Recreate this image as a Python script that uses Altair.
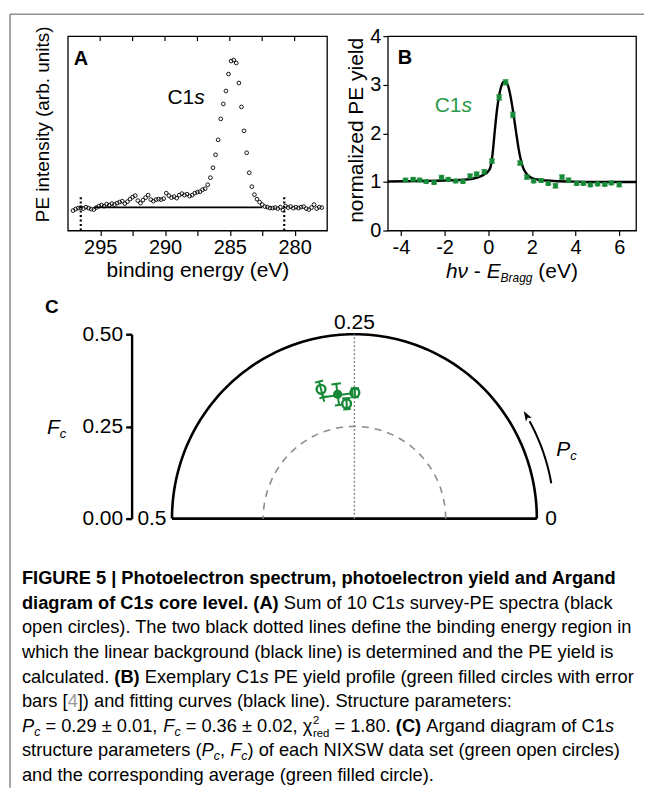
import altair as alt
import numpy as np
import pandas as pd

FONT = "Liberation Sans"
GREEN = "#178a37"
GREEN_TXT = "#2b9a4c"
GRAY = "#8c8c8c"
BORDER = "#909090"

# ---------------- Panel A : PE spectrum ----------------
a_energy = [297.1, 296.9, 296.7, 296.5, 296.3, 296.1, 295.9, 295.7, 295.5, 295.3,
            295.1, 294.9, 294.7, 294.5, 294.3, 294.1, 293.9, 293.7, 293.5, 293.3,
            293.1, 292.9, 292.7, 292.5, 292.3, 292.1, 291.9, 291.7, 291.5, 291.3,
            291.1, 290.9, 290.7, 290.5, 290.3, 290.1, 289.9, 289.7, 289.5, 289.3,
            289.1, 288.9, 288.7, 288.5, 288.3, 288.1, 287.9, 287.7, 287.5, 287.3,
            287.1, 286.9, 286.7, 286.5, 286.3, 286.1, 285.9, 285.7, 285.5, 285.3,
            285.1, 284.9, 284.7, 284.5, 284.3, 284.1, 283.9, 283.7, 283.5, 283.3,
            283.1, 282.9, 282.7, 282.5, 282.3, 282.1, 281.9, 281.7, 281.5, 281.3,
            281.1, 280.9, 280.7, 280.5, 280.3, 280.1, 279.9, 279.7, 279.5, 279.3,
            279.1, 278.9, 278.7, 278.5, 278.3, 278.1, 277.9]
a_intensity = [20, 21.5, 22.5, 23, 22, 23.5, 22.5, 21.5, 21, 23,
               24.5, 25.5, 24.5, 26.5, 25.5, 27, 26, 27.5, 28.5, 29.5,
               27, 29, 31.5, 33.5, 35, 30, 27.5, 30.5, 33, 35.5,
               31, 29.5, 31, 31.5, 31, 32, 37.5, 35, 33, 34,
               32.5, 35.5, 37, 35.5, 36.5, 34.5, 35.5, 37.5, 38.5, 39,
               41, 42, 46, 53, 63, 76, 91, 112, 127, 140,
               157, 170, 171, 168, 148, 124, 100, 78, 58, 44,
               36, 31.5, 28.5, 26, 24, 23.5, 22.5, 22.5, 23, 22,
               23.5, 20.5, 24.5, 23, 24, 22.5, 23.5, 22.5, 23.5, 24,
               22, 21, 23, 26, 22, 23.5, 23]
a_ticks = [295, 292.5, 290, 287.5, 285, 282.5, 280]
a_dotted_E = [296.5, 280.8]
a_dotted_top = [36, 36]
a_bg_from = [295.5]
a_bg_to = [282.5]
a_bg_level = [23.3]

# ---------------- Panel B : PE yield ----------------
b_x = [-3.79, -3.44, -3.14, -2.84, -2.48, -2.14, -1.83, -1.49, -1.16, -0.83,
       -0.53, -0.18, 0.17, 0.50, 0.80, 1.13, 1.46, 1.77, 2.08, 2.42,
       2.75, 3.08, 3.38, 3.68, 4.05, 4.36, 4.68, 5.01, 5.34, 5.64, 6.00]
b_y = [1.04, 1.055, 1.04, 1.01, 0.99, 1.09, 1.055, 1.02, 1.01, 1.12,
       1.16, 1.21, 1.43, 2.74, 3.05, 2.38, 1.39, 1.10, 1.02, 1.03,
       0.97, 0.92, 1.10, 1.035, 0.97, 0.97, 0.94, 0.96, 0.95, 0.98, 0.945]
b_err = [0.03, 0.03, 0.03, 0.03, 0.03, 0.04, 0.03, 0.03, 0.03, 0.04,
         0.04, 0.04, 0.04, 0.05, 0.05, 0.05, 0.04, 0.04, 0.03, 0.03,
         0.03, 0.04, 0.04, 0.04, 0.03, 0.03, 0.03, 0.03, 0.03, 0.03, 0.04]
fit_x = [-4.6, -3.0, -2.0, -1.0, -0.5, -0.2, 0.0, 0.1, 0.2, 0.3, 0.4, 0.5, 0.6, 0.7,
         0.8, 0.9, 1.0, 1.1, 1.2, 1.3, 1.4, 1.5, 1.6, 1.7, 1.8, 2.0, 2.4, 3.0, 4.0, 5.0, 6.77]
fit_y = [1.01, 1.02, 1.03, 1.05, 1.09, 1.15, 1.22, 1.30, 1.58, 2.05, 2.48, 2.78, 2.97, 3.06,
         3.07, 2.99, 2.81, 2.56, 2.26, 1.95, 1.66, 1.44, 1.29, 1.20, 1.14, 1.08, 1.04, 1.02,
         1.005, 1.0, 1.0]
b_xticks = [-4, -3, -2, -1, 0, 1, 2, 3, 4, 5, 6]
b_yticks = [0, 0.5, 1, 1.5, 2, 2.5, 3, 3.5, 4]

# ---------------- Panel C : Argand diagram ----------------
c_open_P = [0.2906, 0.2494, 0.2609]
c_open_F = [0.3623, 0.3414, 0.3123]
c_open_dF = [0.022, 0.012, 0.015]
c_avg_P = [0.2716]
c_avg_F = [0.340]
c_avg_dF = [0.029]
c_avg_dP = [0.019]
c_yticks = [0, 0.25, 0.5]
c_outer_F = 0.5
c_inner_F = 0.25
c_arrow_F = 0.548
c_arrow_P = [0.028, 0.080]
c_arrow_head_P = 0.085

# ---------------- text metrics (Helvetica / Arial widths) ----------------
_R = ([278, 278, 355, 556, 556, 889, 667, 191, 333, 333, 389, 584, 278, 333, 278, 278]
      + [556] * 10 + [278, 278, 584, 584, 584, 556, 1015]
      + [667, 667, 722, 722, 667, 611, 778, 722, 278, 500, 667, 556, 833, 722, 778, 667,
         778, 722, 667, 611, 722, 667, 944, 667, 667, 611]
      + [278, 278, 278, 469, 556, 333]
      + [556, 556, 500, 556, 556, 278, 556, 556, 222, 222, 500, 222, 833, 556, 556, 556,
         556, 333, 500, 278, 556, 500, 722, 500, 500, 500]
      + [334, 260, 334, 584])
_B = ([278, 333, 474, 556, 556, 889, 722, 238, 333, 333, 389, 584, 278, 333, 278, 278]
      + [556] * 10 + [333, 333, 584, 584, 584, 611, 975]
      + [722, 722, 722, 722, 667, 611, 778, 722, 278, 556, 722, 611, 833, 722, 778, 667,
         778, 722, 667, 611, 722, 667, 944, 667, 667, 611]
      + [333, 278, 333, 584, 556, 333]
      + [556, 611, 556, 611, 556, 333, 611, 611, 278, 278, 556, 278, 889, 611, 611, 611,
         611, 389, 556, 333, 611, 556, 778, 556, 556, 500]
      + [389, 280, 389, 584])
_EXTRA = {"±": 584, "χ": 520, "ν": 500}


def tw(s, size, bold=False):
    tab = _B if bold else _R
    tot = 0
    for ch in s:
        o = ord(ch)
        tot += tab[o - 32] if 32 <= o <= 126 else _EXTRA.get(ch, 556)
    return tot * size / 1000.0


def label(text, x, y, size, weight="normal", style="normal", color="black", align="left"):
    return alt.Chart(pd.DataFrame({"t": [text]})).mark_text(
        align=align, baseline="alphabetic", font=FONT, fontSize=size,
        fontWeight=weight, fontStyle=style, color=color
    ).encode(x=alt.value(x), y=alt.value(y), text="t:N")


def rich(pieces, x0, y0):
    """pieces: (text, size, weight, style, dy, color), laid out left to right"""
    layers = []
    x = x0
    for text, size, weight, style, dy, color in pieces:
        bold = weight == "bold"
        lead = len(text) - len(text.lstrip(" "))
        trail = len(text) - len(text.rstrip(" "))
        core = text.strip(" ")
        x += lead * tw(" ", size, bold)
        if core:
            layers.append(label(core, x, y0 + dy, size, weight, style, color))
        x += tw(core, size, bold) + trail * tw(" ", size, bold)
    return layers


def total_width(pieces):
    return sum(tw(t, s, w == "bold") for t, s, w, st, dy, c in pieces)


# ================= Panel A =================
WA, HA = 260, 195
xa = alt.Scale(domain=[277.5, 297.5], reverse=True, nice=False, zero=False)
ya = alt.Scale(domain=[0, 195], nice=False, zero=False)
ax_a_x = alt.Axis(values=a_ticks, format="d", tickSize=5, tickWidth=1.2, labelFontSize=20,
                  labelPadding=2, titleFontSize=21, titlePadding=2,
                  labelExpr="datum.value % 5 == 0 ? '' + datum.value : ''")
ax_a_y = alt.Axis(labels=False, ticks=False, titleFontSize=19, titlePadding=15, titleY=88)

dfA = pd.DataFrame({"E": a_energy, "I": a_intensity})
pointsA = alt.Chart(dfA).mark_point(shape="circle", filled=False, size=14, strokeWidth=0.9,
                                     color="black", opacity=1).encode(
    x=alt.X("E:Q", scale=xa, axis=ax_a_x, title="binding energy (eV)"),
    y=alt.Y("I:Q", scale=ya, axis=ax_a_y, title="PE intensity (arb. units)"))
topTicksA = alt.Chart(pd.DataFrame({"t": a_ticks})).mark_rule(color="black", strokeWidth=1.2).encode(
    x=alt.X("t:Q", scale=xa), y=alt.value(0), y2=alt.value(5))
dottedA = alt.Chart(pd.DataFrame({"E": a_dotted_E, "lo": [0, 0], "hi": a_dotted_top})).mark_rule(
    color="black", strokeWidth=2.2, strokeDash=[2, 2.5]).encode(
    x=alt.X("E:Q", scale=xa), y=alt.Y("lo:Q", scale=ya), y2="hi:Q")
bgA = alt.Chart(pd.DataFrame({"a": a_bg_from, "b": a_bg_to, "v": a_bg_level})).mark_rule(
    color="black", strokeWidth=1.8).encode(
    x=alt.X("a:Q", scale=xa), x2="b:Q", y=alt.Y("v:Q", scale=ya))
borderTop = alt.Chart(pd.DataFrame({"d": [0]})).mark_rule(color=BORDER, strokeWidth=1.6).encode(
    x=alt.value(-58), x2=alt.value(578), y=alt.value(-22))
borderLeft = alt.Chart(pd.DataFrame({"d": [0]})).mark_rule(color=BORDER, strokeWidth=1.6).encode(
    x=alt.value(-58), y=alt.value(-22), y2=alt.value(754))
labA = [label("A", 6, 29, 20, weight="bold")]
labA += rich([("C1", 21, "normal", "normal", 0, "black"),
              ("s", 21, "normal", "italic", 0, "black")], 100, 68)

chartA = alt.layer(borderTop, borderLeft, bgA, dottedA, topTicksA, pointsA, *labA).properties(
    width=WA, height=HA, view=alt.ViewBackground(stroke="black", strokeWidth=1.3))

# ================= Panel B =================
WB, HB = 249, 195
xb = alt.Scale(domain=[-4.6, 6.77], nice=False, zero=False)
yb = alt.Scale(domain=[0, 4], nice=False, zero=False)
ax_b_x = alt.Axis(values=b_xticks, tickSize=5, tickWidth=1.2, labelFontSize=20, labelPadding=2,
                  labelExpr="datum.value % 2 == 0 ? '' + datum.value : ''")
ax_b_y = alt.Axis(values=b_yticks, tickSize=5, tickWidth=1.2, labelFontSize=20, labelPadding=2,
                  titleFontSize=21, titlePadding=3, titleY=94,
                  labelExpr="datum.value % 1 == 0 ? '' + datum.value : ''")
dfFit = pd.DataFrame({"x": fit_x, "y": fit_y})
dfB = pd.DataFrame({"x": b_x, "y": b_y, "e": b_err})
dfB["lo"] = dfB["y"] - dfB["e"]
dfB["hi"] = dfB["y"] + dfB["e"]
fitB = alt.Chart(dfFit).mark_line(color="black", strokeWidth=2.4, interpolate="monotone").encode(
    x=alt.X("x:Q", scale=xb, axis=ax_b_x, title=None),
    y=alt.Y("y:Q", scale=yb, axis=ax_b_y, title="normalized PE yield"))
errB = alt.Chart(dfB).mark_rule(color=GREEN, strokeWidth=1.5).encode(
    x=alt.X("x:Q", scale=xb), y=alt.Y("lo:Q", scale=yb), y2="hi:Q")
capLoB = alt.Chart(dfB).mark_tick(color=GREEN, orient="horizontal", size=6, thickness=1.8).encode(
    x=alt.X("x:Q", scale=xb), y=alt.Y("lo:Q", scale=yb))
capHiB = alt.Chart(dfB).mark_tick(color=GREEN, orient="horizontal", size=6, thickness=1.8).encode(
    x=alt.X("x:Q", scale=xb), y=alt.Y("hi:Q", scale=yb))
ptsB = alt.Chart(dfB).mark_point(shape="circle", filled=True, size=26, color=GREEN, opacity=1).encode(
    x=alt.X("x:Q", scale=xb), y=alt.Y("y:Q", scale=yb))
labB = [label("B", 10, 28, 20, weight="bold")]
labB += rich([("C1", 21, "normal", "normal", 0, GREEN_TXT),
              ("s", 21, "normal", "italic", 0, GREEN_TXT)], 47, 76)
xt_pieces = [("hν", 21, "normal", "italic", 0, "black"),
             (" - ", 21, "normal", "normal", 0, "black"),
             ("E", 21, "normal", "italic", 0, "black"),
             ("Bragg", 12, "normal", "italic", 4, "black"),
             (" (eV)", 21, "normal", "normal", 0, "black")]
labB += rich(xt_pieces, WB / 2 - total_width(xt_pieces) / 2, 243)

chartB = alt.layer(fitB, errB, capLoB, capHiB, ptsB, *labB).properties(
    width=WB, height=HB, view=alt.ViewBackground(stroke="black", strokeWidth=1.3))

# ================= Panel C =================
WC, HC = 260, 185
xc = alt.Scale(domain=[-0.7855, 0.5615], range=[0, 493], nice=False, zero=False)
yc = alt.Scale(domain=[0, 0.5], nice=False, zero=False)
ax_c = alt.Axis(values=c_yticks, format=".2f", offset=-64, domain=True, domainColor="black",
                domainWidth=2.4, tickColor="black", tickWidth=2.4, tickSize=6,
                labelFontSize=21, labelPadding=3, grid=False)
POLAR_X = "datum.F * cos(2 * PI * datum.P)"
POLAR_Y = "datum.F * sin(2 * PI * datum.P)"
arc_P = list(np.linspace(0.0, 0.5, 121))


def arc_chart(F, Ps, **mk):
    df = pd.DataFrame({"P": Ps, "F": [F] * len(Ps)})
    return alt.Chart(df).transform_calculate(x=POLAR_X, y=POLAR_Y).mark_line(**mk).encode(
        x=alt.X("x:Q", scale=xc, axis=None),
        y=alt.Y("y:Q", scale=yc, axis=ax_c, title=None), order="P:Q")


outerC = arc_chart(c_outer_F, arc_P, color="black", strokeWidth=2.6)
innerC = arc_chart(c_inner_F, arc_P, color=GRAY, strokeWidth=1.6, strokeDash=[7, 6])
baseC = alt.Chart(pd.DataFrame({"a": [-c_outer_F], "b": [c_outer_F], "v": [0.0]})).mark_rule(
    color="black", strokeWidth=2.6).encode(
    x=alt.X("a:Q", scale=xc, axis=None), x2="b:Q", y=alt.Y("v:Q", scale=yc, axis=ax_c, title=None))
dotC = alt.Chart(pd.DataFrame({"a": [0.0], "lo": [0.0], "hi": [c_outer_F]})).mark_rule(
    color=GRAY, strokeWidth=1.4, strokeDash=[2, 2]).encode(
    x=alt.X("a:Q", scale=xc, axis=None), y=alt.Y("lo:Q", scale=yc, axis=ax_c, title=None), y2="hi:Q")
arrowC = arc_chart(c_arrow_F, list(np.linspace(c_arrow_P[0], c_arrow_P[1], 14)),
                   color="black", strokeWidth=2.0)
headC = alt.Chart(pd.DataFrame({"P": [c_arrow_head_P], "F": [c_arrow_F]})).transform_calculate(
    x=POLAR_X, y=POLAR_Y).mark_point(
    shape="M0,-1L0.62,0.85L0,0.45L-0.62,0.85Z", size=120, filled=True, color="black", opacity=1,
    angle=360 - c_arrow_head_P * 360).encode(
    x=alt.X("x:Q", scale=xc, axis=None), y=alt.Y("y:Q", scale=yc, axis=ax_c, title=None))

# error-bar segments derived from the read values
segs = []
pxu = 366.0
for P, F, dF, dP in zip(c_avg_P, c_avg_F, c_avg_dF, c_avg_dP):
    cp = 4.5 / pxu / (2 * np.pi * F)
    cf = 4.5 / pxu
    segs.append((P, F - dF, P, F + dF))
    segs.append((P - cp, F - dF, P + cp, F - dF))
    segs.append((P - cp, F + dF, P + cp, F + dF))
    segs.append((P - dP, F, P + dP, F))
    segs.append((P - dP, F - cf, P - dP, F + cf))
    segs.append((P + dP, F - cf, P + dP, F + cf))
for P, F, dF in zip(c_open_P, c_open_F, c_open_dF):
    cp = 4.0 / pxu / (2 * np.pi * F)
    segs.append((P, F - dF, P, F + dF))
    segs.append((P - cp, F - dF, P + cp, F - dF))
    segs.append((P - cp, F + dF, P + cp, F + dF))
dfSeg = pd.DataFrame(segs, columns=["P1", "F1", "P2", "F2"])
errC = alt.Chart(dfSeg).transform_calculate(
    x1="datum.F1 * cos(2 * PI * datum.P1)", y1="datum.F1 * sin(2 * PI * datum.P1)",
    x2="datum.F2 * cos(2 * PI * datum.P2)", y2="datum.F2 * sin(2 * PI * datum.P2)"
).mark_rule(color=GREEN, strokeWidth=2.0).encode(
    x=alt.X("x1:Q", scale=xc, axis=None), x2="x2:Q",
    y=alt.Y("y1:Q", scale=yc, axis=ax_c, title=None), y2="y2:Q")
openC = alt.Chart(pd.DataFrame({"P": c_open_P, "F": c_open_F})).transform_calculate(
    x=POLAR_X, y=POLAR_Y).mark_point(shape="circle", filled=False, size=78, strokeWidth=2.4,
                                      color=GREEN, opacity=1).encode(
    x=alt.X("x:Q", scale=xc, axis=None), y=alt.Y("y:Q", scale=yc, axis=ax_c, title=None))
avgC = alt.Chart(pd.DataFrame({"P": c_avg_P, "F": c_avg_F})).transform_calculate(
    x=POLAR_X, y=POLAR_Y).mark_point(shape="circle", filled=True, size=85, color=GREEN, opacity=1).encode(
    x=alt.X("x:Q", scale=xc, axis=None), y=alt.Y("y:Q", scale=yc, axis=ax_c, title=None))

labC = [label("C", -23, -21, 19, weight="bold"),
        label("0.25", 287.5, -5, 21, align="center"),
        label("0.5", 99, 191, 21, align="right"),
        label("0", 479, 191, 21)]
labC += rich([("F", 21, "normal", "italic", 0, "black"),
              ("c", 13, "normal", "italic", 4, "black")], -21, 100)
labC += rich([("P", 21, "normal", "italic", 0, "black"),
              ("c", 13, "normal", "italic", 4, "black")], 490, 122)

chartC = alt.layer(outerC, baseC, innerC, dotC, arrowC, headC, errC, openC, avgC, *labC).properties(
    width=WC, height=HC)

# ================= Caption =================
cap_lines = [
    [("FIGURE 5 | Photoelectron spectrum, photoelectron yield and Argand", "b")],
    [("diagram of C1", "b"), ("s", "bi"), (" core level. (A)", "b"), (" Sum of 10 C1", "r"),
     ("s", "i"), (" survey-PE spectra (black", "r")],
    [("open circles). The two black dotted lines define the binding energy region in", "r")],
    [("which the linear background (black line) is determined and the PE yield is", "r")],
    [("calculated. ", "r"), ("(B)", "b"), (" Exemplary C1", "r"), ("s", "i"),
     (" PE yield profile (green filled circles with error", "r")],
    [("bars [", "r"), ("4", "g"), ("]) and fitting curves (black line). Structure parameters:", "r")],
    [("P", "i"), ("c", "sub"), (" = 0.29 ± 0.01, ", "r"), ("F", "i"), ("c", "sub"),
     (" = 0.36 ± 0.02, χ", "r"), (("2", "red"), "supsub"), (" = 1.80. ", "r"), ("(C)", "b"),
     (" Argand diagram of C1", "r"), ("s", "i")],
    [("structure parameters (", "r"), ("P", "i"), ("c", "sub"), (", ", "r"), ("F", "i"),
     ("c", "sub"), (") of each NIXSW data set (green open circles)", "r")],
    [("and the corresponding average (green filled circle).", "r")],
]
STY = {
    "r": (False, False, 1.0, 0, "black"),
    "b": (True, False, 1.0, 0, "black"),
    "i": (False, True, 1.0, 0, "black"),
    "bi": (True, True, 1.0, 0, "black"),
    "g": (False, False, 1.0, 0, "#9a9a9a"),
    "sub": (False, True, 0.68, 4, "black"),
    "sup": (False, False, 0.62, -8, "black"),
    "subr": (False, False, 0.62, 5, "black"),
}
CAP_W_TARGET = 612.0
CAP_S = CAP_W_TARGET / (tw(cap_lines[2][0][0], 1.0))
ORIGIN_X, ORIGIN_Y = 388.0, 333.0   # caption cell origin on the page
CAP_X0 = 21.0 - ORIGIN_X
CAP_Y0 = 584.0 - ORIGIN_Y
CAP_DY = 24.6

rows = []
for li, line in enumerate(cap_lines):
    x = CAP_X0
    y = CAP_Y0 + li * CAP_DY
    for seg, st in line:
        if st == "supsub":
            sup, sub = seg
            k = STY["sup"][2]
            rows.append(dict(t=sup, x=x, y=y + STY["sup"][3], s="sup"))
            rows.append(dict(t=sub, x=x, y=y + STY["subr"][3], s="subr"))
            x += max(tw(sup, CAP_S * k), tw(sub, CAP_S * k))
            continue
        bold, ital, k, dy, col = STY[st]
        size = CAP_S * k
        lead = len(seg) - len(seg.lstrip(" "))
        trail = len(seg) - len(seg.rstrip(" "))
        core = seg.strip(" ")
        x += lead * tw(" ", size, bold)
        if core:
            rows.append(dict(t=core, x=x, y=y + dy, s=st))
        x += tw(core, size, bold) + trail * tw(" ", size, bold)
dfCap = pd.DataFrame(rows)
WCAP, HCAP = 249, 185
xs = alt.Scale(domain=[0, WCAP], nice=False, zero=False)
ys = alt.Scale(domain=[0, HCAP], reverse=True, nice=False, zero=False)
cap_layers = []
for key, (bold, ital, k, dy, col) in STY.items():
    sub = dfCap[dfCap["s"] == key]
    if len(sub) == 0:
        continue
    cap_layers.append(alt.Chart(sub).mark_text(
        align="left", baseline="alphabetic", font=FONT, fontSize=round(CAP_S * k, 2),
        fontWeight="bold" if bold else "normal", fontStyle="italic" if ital else "normal",
        color=col).encode(
        x=alt.X("x:Q", scale=xs, axis=None), y=alt.Y("y:Q", scale=ys, axis=None), text="t:N"))
chartCap = alt.layer(*cap_layers).properties(width=WCAP, height=HCAP)

# ================= assemble =================
chart = alt.concat(chartA, chartB, chartC, chartCap, columns=2,
                   spacing={"row": 104, "column": 61}, bounds="flush").properties(
    padding={"left": 0, "top": 3, "right": 0, "bottom": 0}
).configure_view(stroke="transparent").configure_axis(
    labelFont=FONT, titleFont=FONT, labelColor="black", titleColor="black", tickColor="black",
    titleFontWeight="normal", grid=False, domain=False)

chart.save("out.html", embed_options={"renderer": "svg", "actions": False})
